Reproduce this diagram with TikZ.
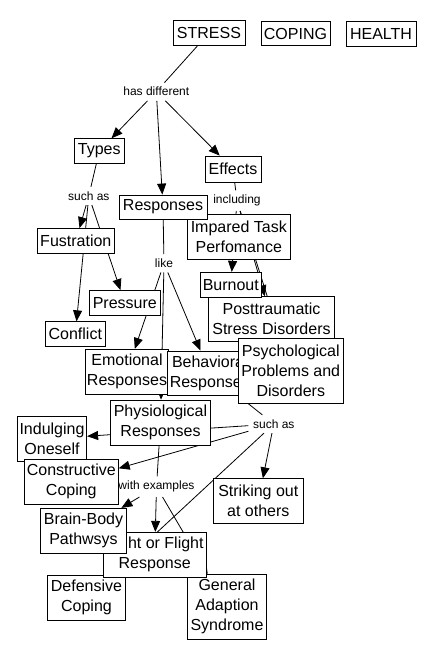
\documentclass[tikz,border=0pt]{standalone}
\usepackage{fontspec}
\setmainfont{Liberation Sans}
\usetikzlibrary{arrows.meta,backgrounds}
\begin{document}
\begin{tikzpicture}[x=1pt,y=-1pt,
  box/.style={draw, fill=white, line width=0.8pt, inner sep=0pt, align=center,
    font=\fontsize{16pt}{20pt}\selectfont},
  lbl/.style={inner sep=4.5pt, font=\fontsize{12pt}{14pt}\selectfont},
  link/.style={line width=0.8pt},
  arr/.style={link, -{Triangle[length=11pt,width=9pt]}}]
\useasboundingbox (0,0) rectangle (435,659);

% concepts (later ones lie on top)
\node[box, minimum width=72pt, minimum height=25pt] (stress) at (209,33) {STRESS};
\node[box, minimum width=69pt, minimum height=24pt] (coping) at (295.5,33.5) {COPING};
\node[box, minimum width=70pt, minimum height=25pt] (health) at (381,34) {HEALTH};
\node[box, minimum width=50.7pt, minimum height=24.6pt] (types) at (99.3,151) {Types};
\node[box, minimum width=56pt, minimum height=26pt] (effects) at (233,169) {Effects};
\node[box, minimum width=103pt, minimum height=45pt] (impared) at (238.8,236.8) {Impared Task\\Perfomance};
\node[box, minimum width=88pt, minimum height=24pt] (responses) at (163,207) {Responses};
\node[box, minimum width=77pt, minimum height=25pt] (fustration) at (75.8,241) {Fustration};
\node[box, minimum width=71pt, minimum height=25pt] (pressure) at (124.8,303) {Pressure};
\node[box, minimum width=60pt, minimum height=24.5pt] (conflict) at (75.3,334) {Conflict};
\node[box, minimum width=125.6pt, minimum height=44.6pt] (posttraumatic) at (271.5,319) {Posttraumatic\\Stress Disorders};
\node[box, minimum width=61pt, minimum height=25pt] (burnout) at (230.8,284.8) {Burnout};
\node[box, minimum width=82.6pt, minimum height=45pt] (emotional) at (127,371.8) {Emotional\\Responses};
\node[box, minimum width=85pt, minimum height=44pt] (behavioral) at (209.8,373) {Behavioral\\Responses};
\node[box, minimum width=105pt, minimum height=65pt] (psych) at (290.8,370.8) {Psychological\\Problems and\\Disorders};
\node[box, minimum width=100.4pt, minimum height=45.3pt] (physio) at (160.5,422.7) {Physiological\\Responses};
\node[box, minimum width=69.4pt, minimum height=45pt] (indulging) at (52,438.5) {Indulging\\Oneself};
\node[box, minimum width=94pt, minimum height=45pt] (constructive) at (71.3,481.8) {Constructive\\Coping};
\node[box, minimum width=90pt, minimum height=44.6pt] (striking) at (258.3,501) {Striking out\\at others};
\node[box, minimum width=77.6pt, minimum height=44.3pt] (defensive) at (86.5,597.8) {Defensive\\Coping};
\node[box, minimum width=79.4pt, minimum height=65pt] (general) at (227,606.8) {General\\Adaption\\Syndrome};
\node[box, minimum width=102.7pt, minimum height=45pt] (fight) at (154.7,554.8) {Fight or Flight\\Response};
\node[box, minimum width=86.4pt, minimum height=45pt] (brainbody) at (83.5,530.8) {Brain-Body\\Pathwsys};

% linking phrases
\node[lbl] (hasdiff) at (156.3,91.7) {has different};
\node[lbl] (suchasA) at (88.8,196) {such as};
\node[lbl] (including) at (237,200.7) {including};
\node[lbl] (like) at (164,263.3) {like};
\node[lbl] (suchasB) at (273.8,424) {such as};
\node[lbl] (withex) at (156.5,486.7) {with examples};

% connectors
\begin{pgfonlayer}{background}
\draw[link] (stress) -- (hasdiff);
\draw[arr] (hasdiff) -- (types);
\draw[arr] (hasdiff) -- (responses);
\draw[arr] (hasdiff) -- (effects);
\draw[link] (types) -- (suchasA);
\draw[arr] (suchasA) -- (fustration);
\draw[arr] (suchasA) -- (pressure);
\draw[arr] (suchasA) -- (conflict);
\draw[link] (effects) -- (including);
\draw[arr] (including) -- (burnout);
\draw[arr] (including) -- (posttraumatic);
\draw[arr] (including) -- (psych);
\draw[link] (responses) -- (like);
\draw[arr] (like) -- (emotional);
\draw[arr] (like) -- (physio);
\draw[arr] (like) -- (behavioral);
\draw[link] (behavioral) -- (suchasB);
\draw[arr] (suchasB) -- (indulging);
\draw[arr] (suchasB) -- (constructive);
\draw[arr] (suchasB) -- (defensive);
\draw[arr] (suchasB) -- (striking);
\draw[link] (physio) -- (withex);
\draw[arr] (withex) -- (brainbody);
\draw[arr] (withex) -- (fight);
\draw[arr] (withex) -- (general);
\end{pgfonlayer}
\end{tikzpicture}
\end{document}
